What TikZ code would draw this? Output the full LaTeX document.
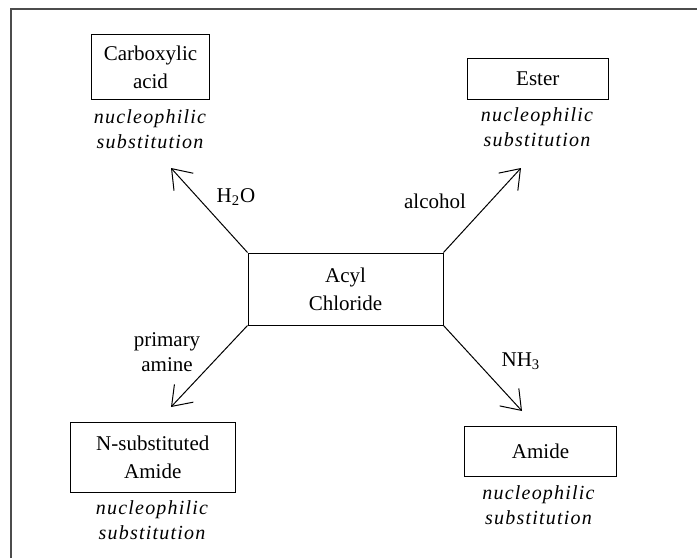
\documentclass[tikz,border=0pt]{standalone}
\usepackage{fontspec}
\setmainfont{Liberation Serif}
\newfontfamily\nucfont[LetterSpace=6]{Liberation Serif}
\usepackage{tikz}
\usetikzlibrary{arrows.meta}

\begin{document}
\begin{tikzpicture}[x=0.5pt,y=-0.5pt,
    box/.style={draw,line width=0.5pt,align=center,inner sep=0pt,
        font=\fontsize{10.5}{14}\selectfont},
    nuc/.style={align=center,inner sep=0pt,
        font=\nucfont\itshape\fontsize{10}{12.5}\selectfont},
    lbl/.style={align=center,inner sep=0pt,
        font=\fontsize{10.5}{12.5}\selectfont},
    rxn/.style={line width=0.5pt,-{Straight Barb[length=9pt,width=13pt,line width=0.5pt]}}]
    \useasboundingbox(0,0)rectangle(697,558);
    % 外框
    \draw[color=black!70,line width=0.7pt](11,558)--(11,9)--(697,9);
    % 中心
    \node[box,minimum width=97.5pt,minimum height=36pt](acyl)at(345.5,289){Acyl\\Chloride};
    % 产物
    \node[box,minimum width=58.8pt,minimum height=32.8pt](acid)at(150.5,67){Carboxylic\\acid};
    \node[box,minimum width=70.5pt,minimum height=20.2pt](ester)at(537.8,79){Ester};
    \node[box,minimum width=82.8pt,minimum height=34.8pt](nsub)at(152.8,457.5){N-substituted\\Amide};
    \node[box,minimum width=76pt,minimum height=25pt](amide)at(540.5,451.7){Amide};
    % 反应类型
    \node[nuc](acidtype)at(150,129){nucleophilic\\substitution};
    \node[nuc](estertype)at(537,127){nucleophilic\\substitution};
    \node[nuc](nsubtype)at(152,520.5){nucleophilic\\substitution};
    \node[nuc](amidetype)at(538.5,505.5){nucleophilic\\substitution};
    % 箭头
    \coordinate(tipa)at(171,168);
    \coordinate(tipb)at(521,168);
    \coordinate(tipc)at(171,407);
    \coordinate(tipd)at(522,411);
    \draw[rxn](acyl.north west)--(tipa);
    \draw[rxn](acyl.north east)--(tipb);
    \draw[rxn](acyl.south west)--(tipc);
    \draw[rxn](acyl.south east)--(tipd);
    % 试剂
    \node[lbl](water)at(236,197){H\textsubscript{2}O};
    \node[lbl](alcohol)at(435,201){alcohol};
    \node[lbl](amine)at(167,352){primary\\amine};
    \node[lbl](ammonia)at(521,361){NH\textsubscript{3}};
\end{tikzpicture}
\end{document}
